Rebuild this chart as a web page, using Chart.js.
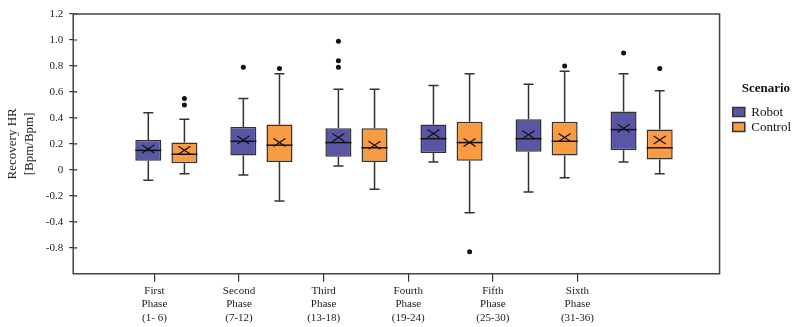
<!DOCTYPE html>
<html lang="en">
<head>
<meta charset="UTF-8">
<title>Recovery HR by Phase</title>
<script src="https://cdn.jsdelivr.net/npm/chart.js"></script>
<style>
    html, body { margin: 0; padding: 0; background: #fff; }
    .chart-container { position: relative; width: 792px; height: 327px; }
</style>
</head>
<body>
<div class="chart-container"><canvas id="hrChart"></canvas></div>
<script>
// categories
const phaseLabels = [
    ['First', 'Phase', '(1- 6)'],
    ['Second', 'Phase', '(7-12)'],
    ['Third', 'Phase', '(13-18)'],
    ['Fourth', 'Phase', '(19-24)'],
    ['Fifth', 'Phase', '(25-30)'],
    ['Sixth', 'Phase', '(31-36)']
];

// y ticks as printed (the last label reads -0.8 in the original)
const yTickValues = [1.2, 1.0, 0.8, 0.6, 0.4, 0.2, 0, -0.2, -0.4, -0.6];
const yTickLabels = ['1.2', '1.0', '0.8', '0.6', '0.4', '0.2', '0', '-0.2', '-0.4', '-0.8'];

// Robot
const robotMin    = [-0.08, -0.04, 0.03, 0.06, -0.17, 0.06];
const robotQ1     = [0.07, 0.11, 0.10, 0.13, 0.14, 0.15];
const robotMedian = [0.15, 0.22, 0.21, 0.24, 0.24, 0.31];
const robotQ3     = [0.23, 0.33, 0.32, 0.35, 0.39, 0.45];
const robotMax    = [0.44, 0.55, 0.62, 0.65, 0.66, 0.74];
const robotMean   = [0.16, 0.23, 0.25, 0.28, 0.27, 0.32];
const robotOutliers = [[], [0.79], [0.99, 0.84, 0.79], [], [], [0.90]];

// Control
const controlMin    = [-0.03, -0.24, -0.15, -0.33, -0.06, -0.03];
const controlQ1     = [0.05, 0.06, 0.06, 0.07, 0.11, 0.08];
const controlMedian = [0.12, 0.19, 0.17, 0.21, 0.22, 0.17];
const controlQ3     = [0.21, 0.35, 0.32, 0.37, 0.37, 0.31];
const controlMax    = [0.39, 0.74, 0.62, 0.74, 0.76, 0.61];
const controlMean   = [0.15, 0.21, 0.19, 0.21, 0.25, 0.23];
const controlOutliers = [[0.55, 0.50], [0.78], [], [-0.63], [0.80], [0.78]];

const serif = "'Liberation Serif', 'Times New Roman', serif";
const inkColor = '#222';

function boxData(q1, q3) {
    return q1.map((v, i) => ({ x: i, y: [v, q3[i]] }));
}

// whiskers, medians, means, outliers and the frame
const boxExtras = {
    id: 'boxExtras',
    afterDatasetsDraw(chart) {
        const ctx = chart.ctx;
        const y = chart.scales.y;
        ctx.save();
        chart.data.datasets.forEach((ds, di) => {
            const st = ds.stats;
            chart.getDatasetMeta(di).data.forEach((bar, i) => {
                const cx = bar.x;
                const half = bar.width / 2;
                const top = y.getPixelForValue(st.q3[i]);
                const bottom = y.getPixelForValue(st.q1[i]);
                const hi = y.getPixelForValue(st.max[i]);
                const lo = y.getPixelForValue(st.min[i]);

                ctx.strokeStyle = '#333';
                ctx.lineWidth = 1.5;
                ctx.beginPath();
                ctx.moveTo(cx, top); ctx.lineTo(cx, hi);
                ctx.moveTo(cx - 5, hi); ctx.lineTo(cx + 5, hi);
                ctx.moveTo(cx, bottom); ctx.lineTo(cx, lo);
                ctx.moveTo(cx - 5, lo); ctx.lineTo(cx + 5, lo);
                ctx.stroke();

                // median
                const my = y.getPixelForValue(st.median[i]);
                ctx.strokeStyle = '#111';
                ctx.beginPath();
                ctx.moveTo(cx - half, my); ctx.lineTo(cx + half, my);
                ctx.stroke();

                // mean marker
                const ay = y.getPixelForValue(st.mean[i]);
                ctx.lineWidth = 1.2;
                ctx.beginPath();
                ctx.moveTo(cx - 6, ay - 4); ctx.lineTo(cx + 6, ay + 4);
                ctx.moveTo(cx - 6, ay + 4); ctx.lineTo(cx + 6, ay - 4);
                ctx.stroke();

                // outliers
                ctx.fillStyle = '#111';
                st.outliers[i].forEach(v => {
                    ctx.beginPath();
                    ctx.arc(cx, y.getPixelForValue(v), 2.5, 0, Math.PI * 2);
                    ctx.fill();
                });
            });
        });

        const a = chart.chartArea;
        // y tick marks cross the axis line in the original
        ctx.strokeStyle = '#333';
        ctx.lineWidth = 1.2;
        ctx.beginPath();
        y.ticks.forEach((t, i) => {
            const py = y.getPixelForTick(i);
            ctx.moveTo(a.left, py); ctx.lineTo(a.left + 4, py);
        });
        ctx.stroke();

        ctx.strokeStyle = '#444';
        ctx.lineWidth = 1.5;
        ctx.strokeRect(a.left, a.top, a.right - a.left, a.bottom - a.top);
        ctx.restore();
    }
};

function createChart() {
    const ctx = document.getElementById('hrChart').getContext('2d');
    new Chart(ctx, {
        type: 'bar',
        data: {
            datasets: [{
                label: 'Robot',
                data: boxData(robotQ1, robotQ3),
                xAxisID: 'x',
                yAxisID: 'y',
                backgroundColor: '#5856a5',
                borderColor: '#333',
                borderWidth: 1.5,
                borderSkipped: false,
                stats: { min: robotMin, q1: robotQ1, median: robotMedian, q3: robotQ3, max: robotMax, mean: robotMean, outliers: robotOutliers }
            }, {
                label: 'Control',
                data: boxData(controlQ1, controlQ3),
                xAxisID: 'x',
                yAxisID: 'y',
                backgroundColor: '#f89b43',
                borderColor: '#333',
                borderWidth: 1.5,
                borderSkipped: false,
                stats: { min: controlMin, q1: controlQ1, median: controlMedian, q3: controlQ3, max: controlMax, mean: controlMean, outliers: controlOutliers }
            }]
        },
        options: {
            responsive: true,
            maintainAspectRatio: false,
            animation: false,
            categoryPercentage: 0.76,
            barPercentage: 0.72,
            layout: { padding: { top: 14, left: 4, right: -9, bottom: 0 } },
            scales: {
                x: {
                    type: 'linear',
                    display: false,
                    offset: false,
                    grid: { offset: false },
                    min: -0.98,
                    max: 5.82,
                    afterBuildTicks: scale => {
                        scale.ticks = phaseLabels.map((_, i) => ({ value: i }));
                    }
                },
                xl: {
                    type: 'linear',
                    position: 'bottom',
                    offset: false,
                    min: -0.96,
                    max: 6.68,
                    afterBuildTicks: scale => {
                        scale.ticks = phaseLabels.map((_, i) => ({ value: i }));
                    },
                    ticks: {
                        autoSkip: false,
                        maxRotation: 0,
                        padding: 2,
                        color: inkColor,
                        font: { family: serif, size: 11, lineHeight: 1.25 },
                        callback: value => phaseLabels[value]
                    },
                    grid: { offset: false, drawOnChartArea: false, tickLength: 8, color: '#333', lineWidth: 1.2 },
                    border: { display: false }
                },
                y: {
                    min: -0.8,
                    max: 1.2,
                    afterBuildTicks: scale => {
                        scale.ticks = yTickValues.map(v => ({ value: v }));
                    },
                    ticks: {
                        padding: 6,
                        color: inkColor,
                        font: { family: serif, size: 11 },
                        callback: (value, index) => yTickLabels[index]
                    },
                    grid: { drawOnChartArea: false, tickLength: 4, color: '#333', lineWidth: 1.2 },
                    border: { display: false },
                    title: {
                        display: true,
                        text: ['Recovery HR', '[Bpm/Bpm]'],
                        color: inkColor,
                        font: { family: serif, size: 13, lineHeight: 1.3 },
                        padding: { top: 0, bottom: 2 }
                    }
                },
                // empty strip between the frame and the legend
                gap: {
                    type: 'linear',
                    position: 'right',
                    ticks: { display: false },
                    grid: { display: false },
                    border: { display: false },
                    title: { display: true, text: '', font: { size: 1 }, padding: { top: 0, bottom: 2 } }
                }
            },
            plugins: {
                legend: {
                    position: 'right',
                    align: 'start',
                    title: {
                        display: true,
                        text: 'Scenario',
                        color: '#111',
                        font: { family: serif, size: 13, weight: 'bold' },
                        padding: { top: 68, bottom: 6 }
                    },
                    labels: {
                        boxWidth: 12,
                        boxHeight: 9,
                        padding: 2,
                        color: '#111',
                        font: { family: serif, size: 13 }
                    }
                },
                tooltip: { enabled: false }
            }
        },
        plugins: [boxExtras]
    });
}

document.addEventListener('DOMContentLoaded', createChart);
</script>
</body>
</html>
